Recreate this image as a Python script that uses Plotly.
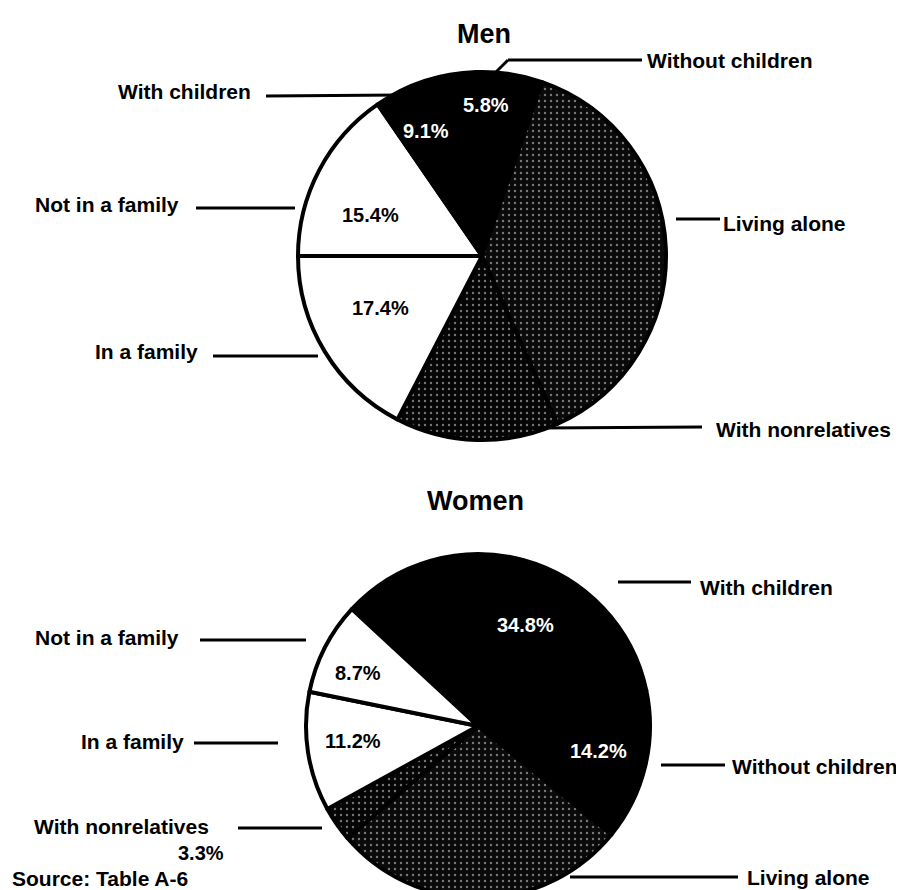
import plotly.graph_objects as go

W, H = 904, 890

# Men: slices listed clockwise, starting at 12 o'clock
men_labels = ["Without children", "Living alone", "With nonrelatives",
              "In a family", "Not in a family", "With children"]
men_values = [5.8, 38.0, 14.3, 17.4, 15.4, 9.1]

# Women: slices listed clockwise, starting at the upper left
women_labels = ["With children", "Without children", "Living alone",
                "With nonrelatives", "In a family", "Not in a family"]
women_values = [34.8, 14.2, 27.8, 3.3, 11.2, 8.7]

source_note = "Source: Table A-6"

FONT = "Liberation Sans, Arial, Helvetica, sans-serif"
fill = {"With children": "#000000", "Without children": "#000000",
        "Not in a family": "#ffffff", "In a family": "#ffffff",
        "Living alone": "#0a0a0a", "With nonrelatives": "#050505"}
stipple = {"Living alone": ".", "With nonrelatives": "."}


def X(x):
    return x / W


def Y(y):
    return 1 - y / H


def dom(cx, cy, r):
    return dict(x=[X(cx - r), X(cx + r)], y=[max(0, Y(cy + r)), Y(cy - r)])


def pie(labels, values, rotation, domain):
    return go.Pie(
        labels=labels, values=values, sort=False, direction="clockwise",
        rotation=rotation, domain=domain, textinfo="none", showlegend=False,
        marker=dict(
            colors=[fill[l] for l in labels],
            line=dict(color="#000000", width=4),
            pattern=dict(shape=[stipple.get(l, "") for l in labels],
                         fillmode="replace",
                         bgcolor=[fill[l] for l in labels],
                         fgcolor="#ffffff", fgopacity=0.45, size=6, solidity=0.12),
        ),
    )


# "In a family" / "Not in a family" boundary of the men's pie sits at 9 o'clock
men_rot = 270 - 3.6 * sum(men_values[:4])
fig = go.Figure()
fig.add_trace(pie(men_labels, men_values, men_rot, dom(474, 248, 184)))
fig.add_trace(pie(women_labels, women_values, -47.2, dom(470, 718, 172)))

ann = []


def txt(s, x, y, anchor="center", color="#000000", size=21):
    ann.append(dict(text=s, x=X(x), y=Y(y), xref="paper", yref="paper",
                    xanchor=anchor, yanchor="middle", showarrow=False,
                    font=dict(family=FONT, size=size, color=color, weight="bold")))


shapes = []


def seg(pts):
    for (x0, y0), (x1, y1) in zip(pts[:-1], pts[1:]):
        shapes.append(dict(type="line", xref="paper", yref="paper",
                           x0=X(x0), y0=Y(y0), x1=X(x1), y1=Y(y1),
                           line=dict(color="#000000", width=3)))


mv = dict(zip(men_labels, men_values))
wv = dict(zip(women_labels, women_values))

# titles
txt("Men", 476, 26, size=27)
txt("Women", 467, 493, size=27)

# men labels and leader lines
txt("With children", 245, 84, "right")
seg([(258, 88), (392, 87)])
txt("Without children", 637, 52, "left")
seg([(481, 71), (500, 52), (634, 52)])
txt("Not in a family", 173, 196, "right")
seg([(188, 200), (287, 200)])
txt("Living alone", 713, 215, "left")
seg([(668, 211), (712, 211)])
txt("In a family", 192, 343, "right")
seg([(205, 348), (310, 348)])
txt("With nonrelatives", 706, 421, "left")
seg([(532, 420), (694, 419)])

# men percentages
txt(f"{mv['Without children']}%", 478, 97, color="#ffffff", size=20)
txt(f"{mv['With children']}%", 418, 123, color="#ffffff", size=20)
txt(f"{mv['Not in a family']}%", 362, 207, size=20)
txt(f"{mv['In a family']}%", 372, 300, size=20)

# women labels and leader lines
txt("With children", 690, 579, "left")
seg([(610, 574), (683, 574)])
txt("Not in a family", 173, 629, "right")
seg([(192, 632), (298, 632)])
txt("In a family", 178, 733, "right")
seg([(186, 735), (270, 735)])
txt("Without children", 722, 758, "left")
seg([(653, 757), (717, 757)])
txt("With nonrelatives", 203, 818, "right")
seg([(230, 820), (314, 820)])
txt(f"{wv['With nonrelatives']}%", 218, 845, "right", size=20)
txt("Living alone", 737, 869, "left")
seg([(562, 869), (730, 869)])

# women percentages
txt(f"{wv['With children']}%", 517, 617, color="#ffffff", size=20)
txt(f"{wv['Not in a family']}%", 350, 665, size=20)
txt(f"{wv['In a family']}%", 345, 733, size=20)
txt(f"{wv['Without children']}%", 590, 743, color="#ffffff", size=20)

txt(source_note, 2, 870, "left")

fig.update_layout(
    width=W, height=H, autosize=False,
    margin=dict(l=0, r=0, t=0, b=0),
    paper_bgcolor="#ffffff", plot_bgcolor="#ffffff",
    annotations=ann, shapes=shapes,
)

fig.write_html("out.html")
